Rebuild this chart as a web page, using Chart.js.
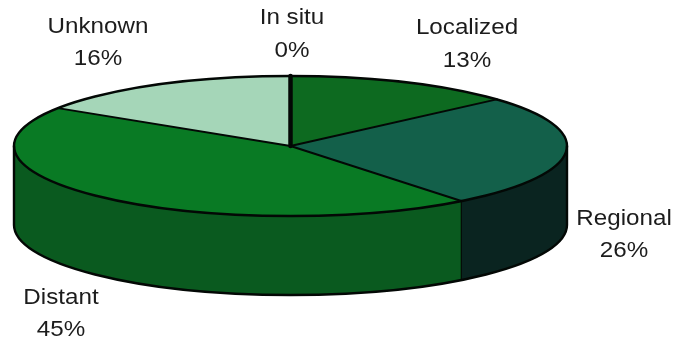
<!DOCTYPE html>
<html>
<head>
<meta charset="utf-8">
<title>Stage at diagnosis</title>
<script src="https://cdn.jsdelivr.net/npm/chart.js@4"></script>
<style>
    html, body { margin: 0; padding: 0; background: #fff; }
    canvas { display: block; filter: blur(0.4px); }
</style>
</head>
<body>
<canvas id="pieChart" width="677" height="343"></canvas>
<script>
// Datos
const stages = ['In situ', 'Localized', 'Regional', 'Distant', 'Unknown'];
const shares = [0, 13.4, 26, 44.7, 15.9];
const shareLabels = ['0%', '13%', '26%', '45%', '16%'];

const topColors = ['#000000', '#0d6a20', '#13604a', '#097a24', '#a5d6b8'];
const sideColors = ['#000000', '#0a4f1c', '#0a2420', '#0a5a1f', '#7fb596'];

// Etiquetas: centro x, linea base del nombre, linea base del porcentaje
const labelSpots = [
    [292, 24, 57],
    [467, 34, 67],
    [624, 225, 257],
    [61, 304, 336],
    [98, 33, 65]
];

// Geometria de la "tarta" 3D
const centerX = 290.5;
const centerY = 146;
const radiusX = 276.5;
const radiusY = 70;
const depth = 79;
const squash = radiusY / radiusX;
const inkColor = '#030805';

function arcs(chart) {
    return chart.getDatasetMeta(0).data;
}

function pointOn(angle, drop) {
    return [centerX + radiusX * Math.cos(angle), centerY + drop + radiusY * Math.sin(angle)];
}

// Lateral visible: solo la mitad delantera de cada porcion
function drawSides(ctx, chart) {
    arcs(chart).forEach((arc, i) => {
        const from = Math.max(arc.startAngle, 0);
        const to = Math.min(arc.endAngle, Math.PI);
        if (to <= from) return;
        ctx.beginPath();
        ctx.ellipse(centerX, centerY, radiusX, radiusY, 0, from, to);
        ctx.ellipse(centerX, centerY + depth, radiusX, radiusY, 0, to, from, true);
        ctx.closePath();
        ctx.fillStyle = sideColors[i];
        ctx.fill();
    });
}

function drawOutlines(ctx, chart) {
    ctx.strokeStyle = inkColor;
    ctx.lineJoin = 'round';
    ctx.lineCap = 'round';

    // Borde inferior y verticales
    ctx.lineWidth = 2.4;
    ctx.beginPath();
    ctx.moveTo(centerX + radiusX, centerY);
    ctx.lineTo(centerX + radiusX, centerY + depth);
    ctx.ellipse(centerX, centerY + depth, radiusX, radiusY, 0, 0, Math.PI);
    ctx.lineTo(centerX - radiusX, centerY);
    ctx.stroke();

    // Borde superior
    ctx.beginPath();
    ctx.ellipse(centerX, centerY, radiusX, radiusY, 0, 0, Math.PI * 2);
    ctx.stroke();

    // Separadores entre porciones
    arcs(chart).forEach((arc, i) => {
        const edge = pointOn(arc.startAngle, 0);
        ctx.lineWidth = shares[i] === 0 ? 4.5 : 2;
        ctx.beginPath();
        ctx.moveTo(centerX, centerY);
        ctx.lineTo(edge[0], edge[1]);
        ctx.stroke();

        // Arista vertical donde cambia el lateral
        if (arc.startAngle > 0 && arc.startAngle < Math.PI) {
            ctx.lineWidth = 1.2;
            ctx.beginPath();
            ctx.moveTo(edge[0], edge[1]);
            ctx.lineTo(edge[0], edge[1] + depth);
            ctx.stroke();
        }
    });
}

function drawLabels(ctx) {
    ctx.fillStyle = '#1c1c1c';
    ctx.font = '22px "Liberation Sans", Arial, sans-serif';
    ctx.textAlign = 'center';
    ctx.textBaseline = 'alphabetic';
    stages.forEach((stage, i) => {
        const spot = labelSpots[i];
        [[stage, spot[1]], [shareLabels[i], spot[2]]].forEach(([text, baseline]) => {
            ctx.save();
            ctx.translate(spot[0], baseline);
            ctx.scale(1.1, 1);
            ctx.fillText(text, 0, 0);
            ctx.restore();
        });
    });
}

const tiltedPie = {
    id: 'tiltedPie',
    beforeDatasetsDraw(chart) {
        drawSides(chart.ctx, chart);
    },
    beforeDatasetDraw(chart) {
        // El circulo de Chart.js se aplasta hasta la elipse superior
        const arc = arcs(chart)[0];
        const ctx = chart.ctx;
        ctx.save();
        ctx.translate(centerX, centerY);
        ctx.scale(1, squash);
        ctx.translate(-arc.x, -arc.y);
    },
    afterDatasetDraw(chart) {
        chart.ctx.restore();
    },
    afterDatasetsDraw(chart) {
        drawOutlines(chart.ctx, chart);
        drawLabels(chart.ctx);
    }
};

new Chart(document.getElementById('pieChart').getContext('2d'), {
    type: 'pie',
    data: {
        labels: stages,
        datasets: [{
            data: shares,
            backgroundColor: topColors,
            borderWidth: 0
        }]
    },
    options: {
        responsive: false,
        animation: false,
        radius: radiusX,
        plugins: {
            legend: { display: false },
            tooltip: { enabled: false }
        }
    },
    plugins: [tiltedPie]
});
</script>
</body>
</html>
